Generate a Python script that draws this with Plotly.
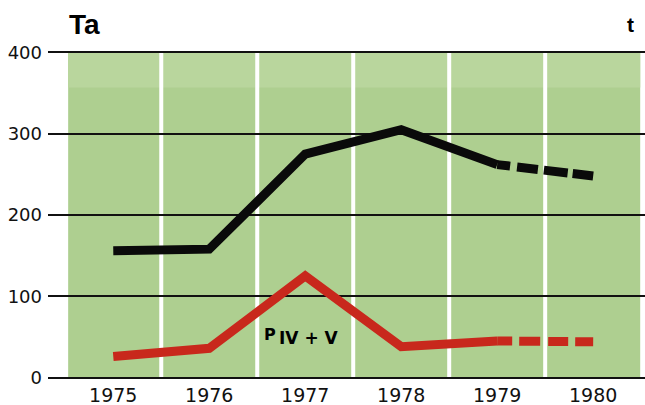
import plotly.graph_objects as go

years = ["1975", "1976", "1977", "1978", "1979", "1980"]
ta_total = [156, 158, 275, 305, 262, 248]
ta_piv_v = [26, 36, 125, 38, 45, 44]
y_ticks = [0, 100, 200, 300, 400]

xi = list(range(len(years)))
fig = go.Figure()

BLACK = "#0a0a0a"
RED = "#c8281c"
# solid parts (1975-1979) and dashed projection (1979-1980)
fig.add_trace(go.Scatter(x=xi[:5], y=ta_total[:5], mode="lines",
                         line=dict(color=BLACK, width=9), showlegend=False, hoverinfo="skip"))
fig.add_trace(go.Scatter(x=xi[4:], y=ta_total[4:], mode="lines",
                         line=dict(color=BLACK, width=9, dash="13px,7px,21px,6px,24px,5px,21px"),
                         showlegend=False, hoverinfo="skip"))
fig.add_trace(go.Scatter(x=xi[:5], y=ta_piv_v[:5], mode="lines",
                         line=dict(color=RED, width=9), showlegend=False, hoverinfo="skip"))
fig.add_trace(go.Scatter(x=xi[4:], y=ta_piv_v[4:], mode="lines",
                         line=dict(color=RED, width=9, dash="15px,7px,21px,8px,20px,7px,21px"),
                         showlegend=False, hoverinfo="skip"))

shapes = [
    dict(type="rect", xref="x", yref="y", x0=-0.47, x1=5.49, y0=0, y1=400,
         fillcolor="#aecf90", line=dict(width=0), layer="below"),
    dict(type="rect", xref="x", yref="y", x0=-0.47, x1=5.49, y0=357, y1=400,
         fillcolor="#b9d69d", line=dict(width=0), layer="below"),
]
for b in [0.5, 1.5, 2.5, 3.5, 4.5]:
    shapes.append(dict(type="line", xref="x", yref="y", x0=b, x1=b, y0=0, y1=400,
                       line=dict(color="white", width=4), layer="below"))

fig.update_layout(
    width=645, height=405,
    margin=dict(l=48, r=0, t=50, b=25),
    paper_bgcolor="white", plot_bgcolor="white",
    font=dict(family="DejaVu Sans, sans-serif", color="#111", size=17),
    shapes=shapes,
    xaxis=dict(range=[-0.68, 5.54], tickmode="array", tickvals=xi, ticktext=years,
               showgrid=False, zeroline=False, showline=False, ticks="", ticklen=0,
               ticklabelstandoff=2, tickfont=dict(size=19), automargin=False),
    yaxis=dict(range=[-3, 403], tickmode="array", tickvals=y_ticks,
               showgrid=True, gridcolor="#111", gridwidth=2, zeroline=False,
               showline=False, ticks="", ticklen=0, ticklabelstandoff=5,
               tickfont=dict(size=18), automargin=False),
    annotations=[
        dict(text="<b>Ta</b>", xref="paper", yref="paper", x=0.032, y=1.076,
             xanchor="left", yanchor="middle", showarrow=False,
             font=dict(family="Liberation Sans, Arial, sans-serif", size=28, color="#000")),
        dict(text="<b>t</b>", xref="paper", yref="paper", x=0.975, y=1.076,
             xanchor="center", yanchor="middle", showarrow=False,
             font=dict(family="Liberation Sans, Arial, sans-serif", size=21, color="#000")),
        dict(text="<b>P</b>", xref="x", yref="y", x=1.63, y=53, showarrow=False,
             font=dict(size=16, color="#000")),
        dict(text="<b>IV + V</b>", xref="x", yref="y", x=2.04, y=49, showarrow=False,
             font=dict(size=17, color="#000")),
    ],
)

fig.write_html("out.html", config={"displayModeBar": False},
               post_script="document.body.style.margin='0px';")
